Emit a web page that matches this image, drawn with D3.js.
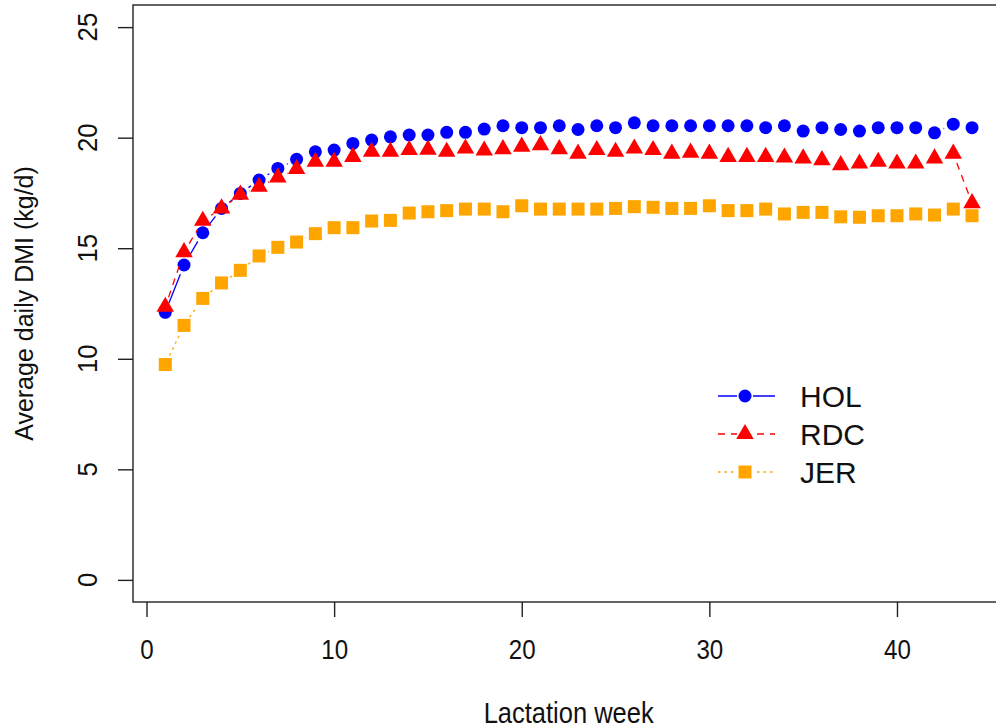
<!DOCTYPE html>
<html>
<head>
<meta charset="utf-8">
<script src="https://cdn.jsdelivr.net/npm/d3@7"></script>
<style>
  body { margin: 0; background: #fff; }
  svg { display: block; }
</style>
</head>
<body>
<script>
// weekly average DMI by breed
var weeks = d3.range(1, 45);
var hol = [12.1, 14.24, 15.7, 16.8, 17.48, 18.08, 18.61, 19.02, 19.36, 19.44, 19.74, 19.89, 20.04, 20.12,
    20.12, 20.24, 20.24, 20.39, 20.54, 20.45, 20.45, 20.54, 20.37, 20.54, 20.45, 20.67, 20.54, 20.54, 20.54, 20.54,
    20.54, 20.54, 20.45, 20.54, 20.3, 20.45, 20.37, 20.3, 20.45, 20.45, 20.45, 20.22, 20.61, 20.45];
var rdc = [12.35, 14.82, 16.24, 16.8, 17.42, 17.78, 18.2, 18.58, 18.91, 18.91, 19.13, 19.36, 19.36, 19.44,
    19.46, 19.36, 19.51, 19.42, 19.48, 19.59, 19.66, 19.48, 19.28, 19.44, 19.36, 19.51, 19.44, 19.28, 19.32, 19.28,
    19.13, 19.13, 19.13, 19.1, 19.06, 18.98, 18.76, 18.83, 18.91, 18.83, 18.83, 19.06, 19.28, 17.04];
var jer = [9.74, 11.51, 12.73, 13.43, 14.0, 14.65, 15.04, 15.28, 15.66, 15.93, 15.93, 16.23, 16.26, 16.59,
    16.65, 16.7, 16.77, 16.77, 16.65, 16.92, 16.77, 16.77, 16.77, 16.77, 16.8, 16.88, 16.85, 16.8, 16.8, 16.92,
    16.7, 16.7, 16.77, 16.55, 16.62, 16.62, 16.42, 16.4, 16.47, 16.47, 16.55, 16.5, 16.77, 16.47];
var seriesNames = ["HOL", "RDC", "JER"];
var xTicks = [0, 10, 20, 30, 40];
var yTicks = [0, 5, 10, 15, 20, 25];

var width = 996, height = 728;
var font = "'Liberation Sans', Arial, sans-serif";

var svg = d3.select("body").append("svg")
    .attr("width", width)
    .attr("height", height);

// R style 4% padding on both axes
var x = d3.scaleLinear().domain([1 - 43 * 0.04, 44 + 43 * 0.04]).range([133, 1004.3]);
var y = d3.scaleLinear().domain([-1, 26]).range([602, 5]);

var series = [
    {name: seriesNames[0], values: hol, color: "#0000ff", dash: null, shape: "circle"},
    {name: seriesNames[1], values: rdc, color: "#ff0000", dash: "7,6", shape: "triangle"},
    {name: seriesNames[2], values: jer, color: "#ffa500", dash: "2.5,4", shape: "square"}
];

var xc = 6.5; // marker radius in px

function drawMarker(g, shape, cx, cy, color) {
    if (shape == "circle") {
        g.append("circle").attr("cx", cx).attr("cy", cy).attr("r", xc).style("fill", color);
    } else if (shape == "triangle") {
        var r = 1.555 * xc, h = 1.3468 * xc, b = 0.7776 * xc;
        g.append("path")
            .attr("d", "M" + cx + "," + (cy - r) + "L" + (cx + h) + "," + (cy + b) + "L" + (cx - h) + "," + (cy + b) + "Z")
            .style("fill", color);
    } else {
        g.append("rect").attr("x", cx - xc).attr("y", cy - xc)
            .attr("width", 2 * xc).attr("height", 2 * xc).style("fill", color);
    }
}

// type = "b": segments with a gap round each point
var gap = 10;
series.forEach(function(s) {
    var g = svg.append("g");
    for (var i = 0; i < weeks.length - 1; i++) {
        var x0 = x(weeks[i]), y0 = y(s.values[i]);
        var x1 = x(weeks[i + 1]), y1 = y(s.values[i + 1]);
        var dx = x1 - x0, dy = y1 - y0, d = Math.sqrt(dx * dx + dy * dy);
        if (d <= 2 * gap) continue;
        var f = gap / d;
        g.append("line")
            .attr("x1", x0 + dx * f).attr("y1", y0 + dy * f)
            .attr("x2", x1 - dx * f).attr("y2", y1 - dy * f)
            .style("stroke", s.color)
            .style("stroke-width", 1.3)
            .style("stroke-dasharray", s.dash);
    }
    weeks.forEach(function(w, i) {
        drawMarker(g, s.shape, x(w), y(s.values[i]), s.color);
    });
});

// plot box
svg.append("rect")
    .attr("x", x.range()[0]).attr("y", y.range()[1])
    .attr("width", x.range()[1] - x.range()[0])
    .attr("height", y.range()[0] - y.range()[1])
    .style("fill", "none")
    .style("stroke", "#222")
    .style("stroke-width", 1.4);

// x axis
var xAxis = svg.append("g")
    .attr("transform", "translate(0," + y.range()[0] + ")")
    .call(d3.axisBottom(x).tickValues(xTicks).tickSize(15).tickSizeOuter(0));
xAxis.select(".domain").remove();
xAxis.selectAll(".tick line").style("stroke", "#222").style("stroke-width", 1.4);
xAxis.selectAll(".tick text")
    .attr("y", 57).attr("dy", null)
    .attr("fill", "#111")
    .style("font-family", font)
    .style("font-size", "28px")
    .each(function() {
        this.setAttribute("textLength", this.getComputedTextLength() * 0.86);
        this.setAttribute("lengthAdjust", "spacingAndGlyphs");
    });

// y axis
var yAxis = svg.append("g")
    .attr("transform", "translate(" + x.range()[0] + ",0)")
    .call(d3.axisLeft(y).tickValues(yTicks).tickSize(15).tickSizeOuter(0));
yAxis.select(".domain").remove();
yAxis.selectAll(".tick line").style("stroke", "#222").style("stroke-width", 1.4);
yAxis.selectAll(".tick text").remove();
svg.selectAll(".ylab")
    .data(yTicks)
    .enter().append("text")
    .attr("class", "ylab")
    .attr("transform", function(d) { return "translate(97," + y(d) + ") rotate(-90)"; })
    .style("text-anchor", "middle")
    .style("font-family", font)
    .style("font-size", "28px")
    .attr("fill", "#111")
    .text(function(d) { return d; })
    .each(function() {
        this.setAttribute("textLength", this.getComputedTextLength() * 0.92);
        this.setAttribute("lengthAdjust", "spacingAndGlyphs");
    });

// axis titles
svg.append("text")
    .attr("x", (x.range()[0] + x.range()[1]) / 2)
    .attr("y", 723)
    .style("text-anchor", "middle")
    .style("font-family", font)
    .style("font-size", "29px")
    .attr("fill", "#111")
    .attr("textLength", 170)
    .attr("lengthAdjust", "spacingAndGlyphs")
    .text("Lactation week");
svg.append("text")
    .attr("transform", "translate(33," + (y.range()[0] + y.range()[1]) / 2 + ") rotate(-90)")
    .style("text-anchor", "middle")
    .style("font-family", font)
    .style("font-size", "25px")
    .attr("fill", "#111")
    .text("Average daily DMI (kg/d)");

// legend
var legendY = d3.scalePoint().domain(seriesNames).range([396, 472]);
series.forEach(function(s) {
    var ly = legendY(s.name);
    svg.append("line")
        .attr("x1", 718).attr("x2", 775)
        .attr("y1", ly).attr("y2", ly)
        .style("stroke", s.color)
        .style("stroke-width", 1.3)
        .style("stroke-dasharray", s.dash);
    var lg = svg.append("g");
    lg.append("rect").attr("x", 737).attr("y", ly - 9).attr("width", 16).attr("height", 18).style("fill", "#fff");
    drawMarker(lg, s.shape, 745, ly, s.color);
    svg.append("text")
        .attr("x", 800)
        .attr("y", ly + 11)
        .style("font-family", font)
        .style("font-size", "30px")
        .attr("fill", "#111")
        .text(s.name);
});
</script>
</body>
</html>
